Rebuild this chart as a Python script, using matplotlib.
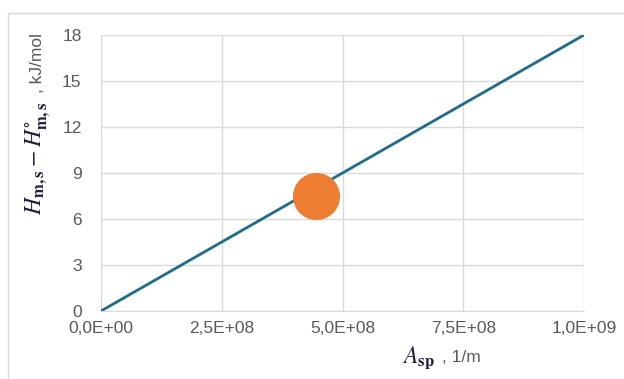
import matplotlib
matplotlib.use("Agg")
import matplotlib.pyplot as plt
from matplotlib.patches import Rectangle
from matplotlib.ticker import FuncFormatter, MultipleLocator

# Data
line_x = [0, 1.0e9]
line_y = [0, 18]
point_x = [4.45e8]
point_y = [7.5]

plt.rcParams['font.family'] = ['Liberation Sans', 'DejaVu Sans']
plt.rcParams['mathtext.fontset'] = 'stix'

gray = '#595959'
fig = plt.figure(figsize=(6.24, 3.79), dpi=100)
ax = fig.add_axes([101 / 624, 1 - 311 / 379, 483 / 624, 276 / 379])

# outer chart border
fig.patches.append(Rectangle((8 / 624, -0.1), 1.1, 1 - 13 / 379 + 0.1,
                             transform=fig.transFigure, fill=False,
                             edgecolor='#D9D9D9', linewidth=1))

ax.plot(line_x, line_y, color='#1F6B8A', linewidth=2, zorder=3)
ax.scatter(point_x, point_y, s=1150, color='#ED7D31', zorder=4, linewidths=0)

ax.set_xlim(0, 1.0e9)
ax.set_ylim(0, 18)
ax.xaxis.set_major_locator(MultipleLocator(2.5e8))
ax.yaxis.set_major_locator(MultipleLocator(3))
ax.xaxis.set_major_formatter(FuncFormatter(lambda v, p: f"{v:.1E}".replace('.', ',')))
ax.yaxis.set_major_formatter(FuncFormatter(lambda v, p: f"{v:.0f}"))

ax.grid(True, color='#D9D9D9', linewidth=1)
ax.set_axisbelow(True)
for side in ['top', 'right', 'left']:
    ax.spines[side].set_visible(False)
ax.spines['bottom'].set_color('#D9D9D9')
ax.tick_params(length=0, labelsize=12.5, labelcolor=gray)
ax.tick_params(axis='y', pad=14)
ax.tick_params(axis='x', pad=7)

# axis titles: math part in dark ink, units in gray
fig.text(38 / 624, 1 - 158 / 379, r'$H_{\mathbf{m,s}} - H^{\circ}_{\mathbf{m,s}}$',
         rotation=90, ha='center', va='center', fontsize=17, color='#1F1F3F')
fig.text(38 / 624, 1 - 63 / 379, ', kJ/mol', rotation=90, ha='center',
         va='center', fontsize=12.5, color=gray)
fig.text(418 / 624, 1 - 358 / 379, r'$A_{\mathbf{sp}}$', ha='center',
         va='center', fontsize=17, color='#1F1F3F')
fig.text(442 / 624, 1 - 357 / 379, ', 1/m', ha='left', va='center',
         fontsize=12.5, color=gray)

fig.savefig('out.png', dpi=100)
